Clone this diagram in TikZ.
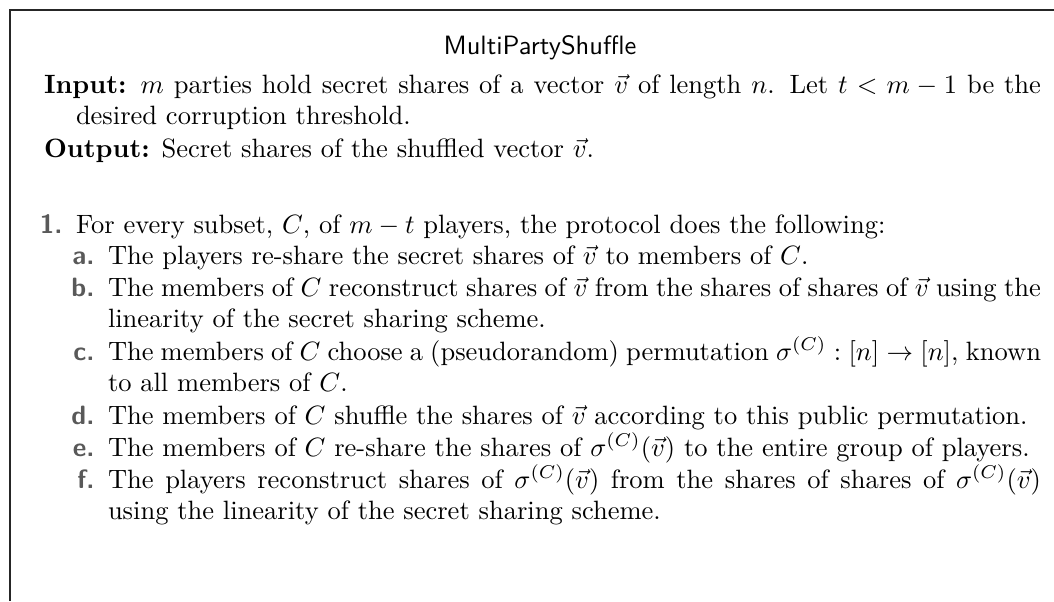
\documentclass[tikz,border=0pt]{standalone}
\usepackage{xcolor}
\newdimen\pxu
\pxu=0.3774pt
\tikzset{
  frame/.style={line width=0.5pt, draw=black!85},
  title/.style={anchor=base, inner sep=0pt, font=\sffamily},
  body/.style={anchor=base west, inner sep=0pt, outer sep=0pt, align=justify,
    execute at begin node={\hyphenpenalty=10000\exhyphenpenalty=10000\tolerance=9999}},
  lbl/.style={anchor=base east, inner sep=0pt, font=\sffamily\bfseries, text=black!65},
}
\begin{document}
\begin{tikzpicture}[x=0.3774pt,y=-0.3774pt]
\useasboundingbox (0,0) rectangle (1054,601);
% open frame: only the left and top rules lie inside the picture
\coordinate (fbl) at (10,601);
\coordinate (ftl) at (10,10);
\coordinate (ftr) at (1054,10);
\draw[frame] (fbl) -- (ftl) -- (ftr);

\node[title] (ttl) at (540,54) {MultiPartyShuffle};

\node[body, text width=997\pxu] (input) at (44,93)
  {\hangindent=32\pxu\hangafter=1\textbf{Input:} $m$ parties hold secret shares of a vector $\vec{v}$ of length $n$. Let $t<m-1$ be the\linebreak desired corruption threshold.\par};
\node[body, text width=997\pxu] (output) at (44,157)
  {\textbf{Output:} Secret shares of the shuffled vector $\vec{v}$.};

\node[lbl] (l1) at (63,233) {1.};
\node[body, text width=965\pxu] (s1) at (76,233)
  {For every subset, $C$, of $m-t$ players, the protocol does the following:};

\node[lbl] (la) at (95,264) {a.};
\node[body, text width=933\pxu] (sa) at (108,264)
  {The players re-share the secret shares of $\vec{v}$ to members of $C$.};
\node[lbl] (lb) at (95,296) {b.};
\node[body, text width=933\pxu] (sb) at (108,296)
  {The members of $C$ reconstruct shares of $\vec{v}$ from the shares of shares of $\vec{v}$ using the\linebreak linearity of the secret sharing scheme.};
\node[lbl] (lc) at (95,360) {c.};
\node[body, text width=933\pxu] (sc) at (108,360)
  {The members of $C$ choose a (pseudorandom) permutation $\sigma^{(C)}:[n]\to[n]$, known\linebreak to all members of $C$.};
\node[lbl] (ld) at (95,424) {d.};
\node[body, text width=933\pxu] (sd) at (108,424)
  {The members of $C$ shuffle the shares of $\vec{v}$ according to this public permutation.};
\node[lbl] (le) at (95,456) {e.};
\node[body, text width=933\pxu] (se) at (108,456)
  {The members of $C$ re-share the shares of $\sigma^{(C)}(\vec{v})$ to the entire group of players.};
\node[lbl] (lf) at (95,488) {f.};
\node[body, text width=933\pxu] (sf) at (108,488)
  {The players reconstruct shares of $\sigma^{(C)}(\vec{v})$ from the shares of shares of $\sigma^{(C)}(\vec{v})$\linebreak using the linearity of the secret sharing scheme.};
\end{tikzpicture}
\end{document}
